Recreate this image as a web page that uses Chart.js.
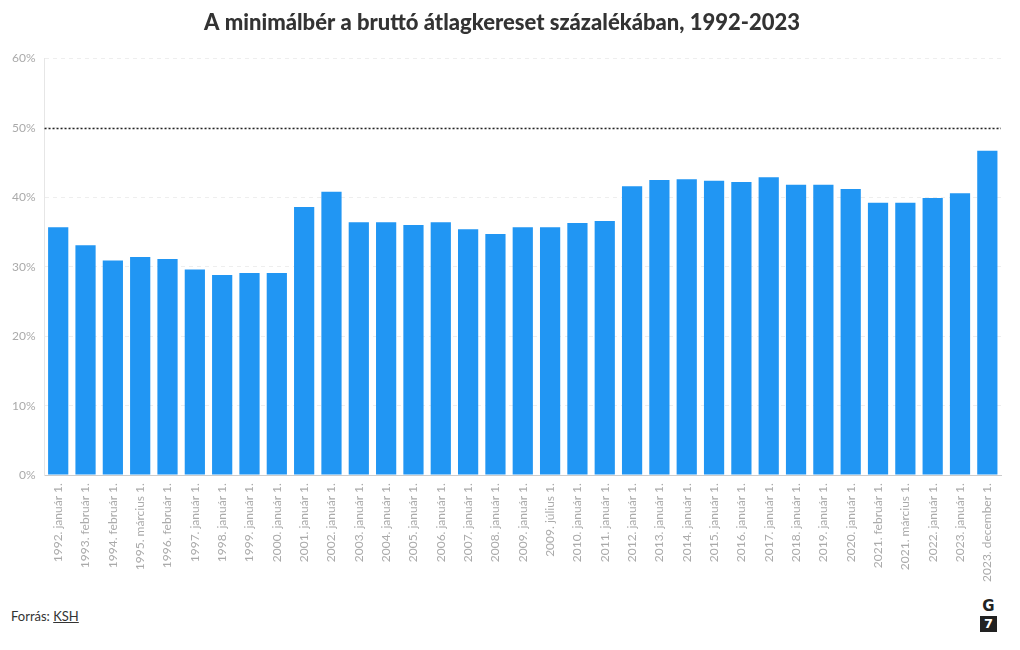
<!DOCTYPE html>
<html lang="hu">
<head>
<meta charset="utf-8">
<script src="https://cdn.jsdelivr.net/npm/chart.js@4"></script>
<style>
  html, body { margin: 0; padding: 0; background: #fff; }
  body { width: 1020px; height: 650px; position: relative; font-family: Lato, sans-serif; }
  #wrap { position: absolute; left: 0; top: 0; width: 1020px; height: 582px; }
  #foot { position: absolute; left: 11px; top: 608px; font-size: 13px; color: #333; }
  #foot u { text-decoration: underline; }
  #logo { position: absolute; left: 980px; top: 599px; width: 17px; text-align: center; font-family: "DejaVu Sans", sans-serif; font-weight: bold; }
  #logo .g { font-size: 15px; line-height: 15px; color: #222; }
  #logo .s { background: #222; color: #fff; font-size: 13px; line-height: 16px; margin-top: 2px; }
</style>
</head>
<body>
<div id="wrap"><canvas id="minChart"></canvas></div>
<div id="foot">Forrás: <u>KSH</u></div>
<div id="logo"><div class="g">G</div><div class="s">7</div></div>
<script>
// Minimálbér az átlagkereset százalékában
const labels = [
  '1992. január 1.', '1993. február 1.', '1994. február 1.', '1995. március 1.', '1996. február 1.',
  '1997. január 1.', '1998. január 1.', '1999. január 1.', '2000. január 1.', '2001. január 1.',
  '2002. január 1.', '2003. január 1.', '2004. január 1.', '2005. január 1.', '2006. január 1.',
  '2007. január 1.', '2008. január 1.', '2009. január 1.', '2009. július 1.', '2010. január 1.',
  '2011. január 1.', '2012. január 1.', '2013. január 1.', '2014. január 1.', '2015. január 1.',
  '2016. január 1.', '2017. január 1.', '2018. január 1.', '2019. január 1.', '2020. január 1.',
  '2021. február 1.', '2021. március 1.', '2022. január 1.', '2023. január 1.', '2023. december 1.'
];
const values = [
  35.7, 33.1, 30.9, 31.4, 31.1, 29.6, 28.8, 29.1, 29.1, 38.6,
  40.8, 36.4, 36.4, 36.0, 36.4, 35.4, 34.7, 35.7, 35.7, 36.3,
  36.6, 41.6, 42.5, 42.6, 42.4, 42.2, 42.9, 41.8, 41.8, 41.2,
  39.2, 39.2, 39.9, 40.6, 46.7
];
const yTicks = [0, 10, 20, 30, 40, 50, 60];
const refLine = 50; // pontozott vonal

// dotted reference line across the plot
const refLinePlugin = {
  id: 'refLine',
  afterDatasetsDraw(chart) {
    const { ctx, chartArea, scales } = chart;
    const y = Math.round(scales.y.getPixelForValue(refLine)) + 0.5;
    ctx.save();
    ctx.strokeStyle = '#222';
    ctx.lineWidth = 1.5;
    ctx.setLineDash([2, 2]);
    ctx.beginPath();
    ctx.moveTo(chartArea.left, y);
    ctx.lineTo(chartArea.right, y);
    ctx.stroke();
    ctx.restore();
  }
};

new Chart(document.getElementById('minChart'), {
  type: 'bar',
  data: {
    labels: labels,
    datasets: [{
      data: values,
      backgroundColor: '#2196f3',
      categoryPercentage: 0.74,
      barPercentage: 1
    }]
  },
  plugins: [refLinePlugin],
  options: {
    responsive: true,
    maintainAspectRatio: false,
    animation: false,
    layout: { padding: { left: 3, right: 19, top: 0, bottom: 0 } },
    plugins: {
      legend: { display: false },
      tooltip: { enabled: false },
      title: {
        display: true,
        text: 'A minimálbér a bruttó átlagkereset százalékában, 1992-2023',
        color: '#333',
        font: { family: 'Lato', size: 22, weight: '900' },
        padding: { top: 10, bottom: 22 }
      }
    },
    scales: {
      x: {
        grid: { display: false, drawTicks: true },
        border: { color: '#ccc' },
        ticks: {
          color: '#aaa',
          font: { family: 'Lato', size: 12 },
          minRotation: 90,
          maxRotation: 90,
          autoSkip: false,
          padding: 0
        }
      },
      y: {
        min: 0,
        max: 60,
        afterBuildTicks(axis) { axis.ticks = yTicks.map(v => ({ value: v })); },
        grid: { color: '#eee', drawTicks: false },
        border: { color: '#e6e6e6', dash: [4, 4] },
        ticks: {
          color: '#aaa',
          font: { family: 'Lato', size: 12 },
          padding: 9,
          callback: v => v + '%'
        }
      }
    }
  }
});
</script>
</body>
</html>
